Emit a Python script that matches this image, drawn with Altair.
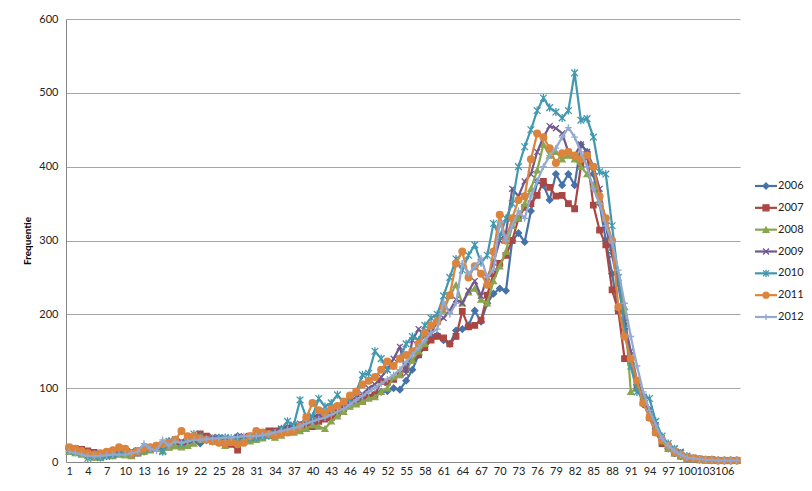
import altair as alt
import pandas as pd

years = ["2006", "2007", "2008", "2009", "2010", "2011", "2012"]
colors = ["#4572A7", "#AA4643", "#89A54E", "#71588F", "#4198AF", "#DB843D", "#93A9CF"]
categories = list(range(1, 109))
x_tick_labels = [1, 4, 7, 10, 13, 16, 19, 22, 25, 28, 31, 34, 37, 40, 43, 46, 49, 52, 55,
                 58, 61, 64, 67, 70, 73, 76, 79, 82, 85, 88, 91, 94, 97, 100, 103, 106]
y_ticks = [0, 100, 200, 300, 400, 500, 600]

v2006 = [18, 16, 15, 10, 7, 7, 8, 9, 12, 11,
         10, 13, 14, 18, 22, 25, 28, 24, 26, 28,
         27, 25, 30, 31, 33, 28, 30, 35, 30, 32,
         33, 37, 36, 36, 40, 44, 47, 50, 54, 55,
         62, 60, 65, 70, 72, 78, 80, 85, 88, 92,
         95, 96, 100, 98, 110, 125, 145, 160, 170, 172,
         165, 160, 178, 180, 185, 205, 190, 215, 228, 235,
         232, 300, 310, 298, 340, 380, 375, 355, 390, 375,
         390, 375, 430, 420, 390, 350, 300, 255, 205, 180,
         140, 105, 78, 70, 45, 30, 18, 12, 8, 5,
         4, 3, 3, 2, 2, 2, 2, 2]
v2007 = [18, 18, 17, 15, 13, 10, 9, 10, 13, 12,
         10, 12, 15, 17, 19, 21, 20, 22, 24, 25,
         32, 38, 35, 30, 28, 25, 24, 16, 30, 35,
         38, 40, 42, 42, 44, 45, 42, 45, 48, 48,
         55, 58, 60, 66, 72, 78, 80, 82, 88, 91,
         109, 108, 112, 118, 130, 138, 145, 155, 165, 170,
         168, 160, 170, 204, 183, 185, 192, 226, 255, 269,
         280, 300, 330, 345, 350, 361, 380, 372, 360, 361,
         350, 343, 400, 415, 348, 314, 294, 233, 205, 140,
         135, 100, 85, 60, 40, 25, 18, 12, 8, 5,
         4, 3, 3, 3, 2, 2, 2, 2]
v2008 = [14, 12, 10, 8, 6, 6, 8, 8, 10, 9,
         8, 12, 14, 16, 18, 15, 20, 22, 20, 22,
         25, 30, 32, 33, 28, 22, 26, 28, 30, 28,
         30, 32, 35, 33, 36, 40, 40, 42, 45, 50,
         48, 45, 55, 62, 68, 75, 78, 82, 86, 88,
         95, 100, 115, 118, 125, 138, 150, 160, 185, 195,
         205, 225, 240, 215, 230, 235, 220, 215, 245, 265,
         285, 320, 330, 350, 370, 395, 430, 415, 420, 410,
         415, 410, 400, 390, 375, 355, 330, 290, 245, 210,
         95, 100, 80, 62, 42, 28, 18, 12, 8, 5,
         4, 3, 2, 2, 2, 2, 2, 2]
v2009 = [20, 18, 16, 14, 12, 10, 10, 12, 12, 14,
         15, 16, 18, 20, 22, 24, 26, 28, 28, 30,
         30, 32, 32, 34, 33, 32, 30, 34, 35, 34,
         36, 38, 38, 40, 42, 48, 50, 52, 58, 60,
         65, 68, 70, 72, 78, 82, 88, 92, 100, 105,
         115, 125, 140, 156, 120, 165, 180, 170, 175, 190,
         195, 205, 220, 215, 232, 245, 225, 250, 270, 300,
         310, 370, 360, 380, 390, 420, 440, 455, 452, 445,
         420, 415, 430, 420, 400, 370, 320, 280, 240, 190,
         150, 110, 88, 72, 50, 32, 22, 18, 14, 8,
         6, 4, 3, 3, 2, 2, 2, 2]
v2010 = [16, 14, 12, 5, 8, 6, 8, 10, 12, 13,
         12, 13, 16, 18, 20, 14, 28, 30, 25, 30,
         38, 35, 30, 28, 32, 33, 32, 30, 30, 32,
         33, 35, 36, 38, 45, 55, 50, 84, 60, 62,
         86, 75, 80, 91, 80, 85, 95, 118, 120, 150,
         140, 125, 130, 140, 160, 170, 165, 185, 195, 200,
         225, 250, 275, 260, 280, 294, 270, 280, 323, 305,
         330, 350, 400, 427, 450, 476, 493, 480, 474, 466,
         476, 527, 463, 465, 440, 393, 390, 320, 250, 180,
         130, 95, 88, 86, 55, 35, 25, 18, 12, 8,
         5, 4, 3, 3, 2, 2, 2, 2]
v2011 = [20, 18, 15, 12, 10, 12, 14, 16, 20, 18,
         12, 15, 18, 20, 22, 24, 26, 30, 42, 35,
         35, 32, 30, 28, 26, 25, 27, 24, 26, 35,
         42, 40, 38, 36, 38, 40, 42, 48, 60, 80,
         70, 66, 72, 76, 82, 90, 95, 105, 110, 115,
         125, 136, 130, 140, 145, 150, 160, 175, 185, 190,
         210, 226, 269, 285, 250, 265, 255, 240, 285, 335,
         300, 330, 355, 360, 410, 445, 440, 425, 405, 418,
         420, 415, 410, 415, 400, 360, 330, 300, 210, 170,
         140, 110, 80, 60, 40, 30, 22, 15, 10, 6,
         5, 4, 3, 3, 2, 2, 2, 2]
v2012 = [14, 12, 10, 8, 8, 8, 9, 10, 10, 10,
         12, 14, 25, 18, 15, 30, 22, 28, 26, 28,
         30, 30, 31, 32, 32, 33, 33, 34, 35, 35,
         35, 36, 38, 40, 42, 44, 46, 48, 52, 55,
         58, 60, 64, 68, 72, 78, 84, 90, 95, 100,
         106, 112, 118, 125, 135, 145, 155, 165, 175, 180,
         217, 200, 215, 269, 255, 264, 276, 250, 260, 325,
         300, 320, 340, 330, 360, 380, 400, 415, 425, 440,
         453, 440, 420, 400, 370, 350, 320, 298, 260, 215,
         170, 130, 95, 70, 50, 32, 22, 15, 10, 6,
         5, 4, 3, 3, 2, 2, 2, 2]

series = [v2006, v2007, v2008, v2009, v2010, v2011, v2012]

X_PATH = "M-1,-1L1,1M-1,1L1,-1"
STAR_PATH = "M-1,-1L1,1M-1,1L1,-1M0,-1.2L0,1.2"
PLUS_PATH = "M-1,0L1,0M0,-1L0,1"
shapes = ["diamond", "square", "triangle-up", X_PATH, STAR_PATH, "circle", PLUS_PATH]
sizes = [40, 30, 35, 35, 45, 45, 45]

rows = []
for yr, vals in zip(years, series):
    for c, v in zip(categories, vals):
        rows.append({"cat": c, "year": yr, "value": v})
df = pd.DataFrame(rows)

FONT = "Lato"

x_enc = alt.X("cat:O", scale=alt.Scale(type="point", padding=0.5),
              axis=alt.Axis(values=x_tick_labels, labelAngle=0, ticks=False, title=None,
                            labelPadding=3, domainColor="#868686", labelFontSize=11,
                            labelColor="#222222", labelFont=FONT))
y_enc = alt.Y("value:Q", scale=alt.Scale(domain=[0, 600], nice=False),
              axis=alt.Axis(values=y_ticks, title="Frequentie", titleFontWeight="bold",
                            titleFontSize=10, titlePadding=6, ticks=False, labelPadding=8,
                            gridColor="#a6a6a6", domainColor="#868686", labelFontSize=11,
                            labelColor="#222222", labelFont=FONT, titleFont=FONT,
                            titleColor="#000000"))

base = alt.Chart(df)
layers = []
for yr, col, shp, sz in zip(years, colors, shapes, sizes):
    sub = base.transform_filter(alt.datum.year == yr)
    layers.append(sub.mark_line(color=col, strokeWidth=2.2).encode(x=x_enc, y=y_enc))
    layers.append(sub.mark_point(shape=shp, filled=True, fill=col, stroke=col,
                                 strokeWidth=1.3, size=sz, opacity=1).encode(x=x_enc, y=y_enc))

main = alt.layer(*layers).properties(width=674, height=443)

leg_df = pd.DataFrame({"year": years})
leg_y = alt.Y("year:N", scale=alt.Scale(type="point", domain=years, range=[167, 298], padding=0),
              axis=None)
leg_color = alt.Color("year:N", scale=alt.Scale(domain=years, range=colors), legend=None)
leg_base = alt.Chart(leg_df)
leg_rule = leg_base.mark_rule(strokeWidth=2.2).encode(
    x=alt.value(4), x2=alt.value(26), y=leg_y, color=leg_color)
leg_pts = leg_base.mark_point(filled=True, strokeWidth=1.3, size=35, opacity=1).encode(
    x=alt.value(15), y=leg_y, color=leg_color,
    stroke=alt.Stroke("year:N", scale=alt.Scale(domain=years, range=colors), legend=None),
    shape=alt.Shape("year:N", scale=alt.Scale(domain=years, range=shapes), legend=None))
leg_txt = leg_base.mark_text(align="left", baseline="middle", fontSize=11, font=FONT,
                             color="#222222").encode(x=alt.value(27), y=leg_y, text="year:N")
legend_panel = alt.layer(leg_rule, leg_pts, leg_txt).properties(width=26, height=443)

chart = alt.hconcat(main, legend_panel, spacing=8).properties(
    padding={"left": 14, "top": 5, "right": 0, "bottom": 0}
).configure(background="white").configure_view(strokeWidth=0, stroke="transparent")

chart.save("out.html", embed_options={"renderer": "svg", "actions": False})
